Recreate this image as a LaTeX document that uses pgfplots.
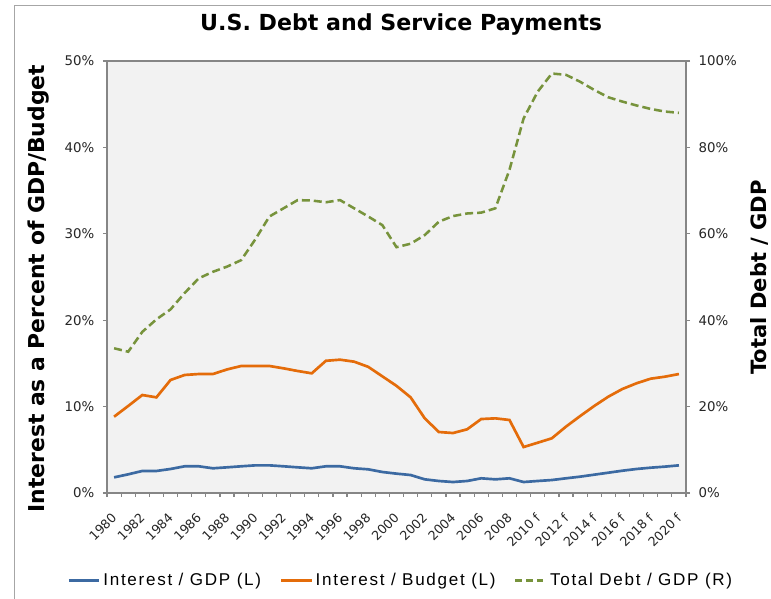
\documentclass[border=0pt]{standalone}
\usepackage{fontspec}
\setmainfont{DejaVu Sans}
\newfontfamily\legfont[LetterSpace=10]{Liberation Sans}
\usepackage{pgfplots}
\usepackage{pgfplotstable}
\pgfplotsset{compat=1.18}
\definecolor{cblue}{RGB}{60,106,162}
\definecolor{corange}{RGB}{228,108,10}
\definecolor{cgreen}{RGB}{119,147,60}
\definecolor{axcol}{RGB}{134,134,134}
\definecolor{bgcol}{RGB}{242,242,242}
\pgfplotstableread{
i blue orange green
0 1.81 8.83 33.5
1 2.16 10.07 32.7
2 2.55 11.34 37.3
3 2.55 11.07 40.2
4 2.78 13.08 42.5
5 3.09 13.66 46.3
6 3.09 13.77 49.7
7 2.86 13.77 51.2
8 2.97 14.30 52.4
9 3.09 14.70 53.9
10 3.20 14.70 58.7
11 3.20 14.70 64.0
12 3.09 14.43 65.9
13 2.97 14.12 67.8
14 2.86 13.85 67.7
15 3.09 15.30 67.3
16 3.09 15.43 67.8
17 2.86 15.20 65.9
18 2.74 14.60 64.0
19 2.43 13.50 62.0
20 2.24 12.40 56.9
21 2.08 11.07 57.7
22 1.58 8.64 59.7
23 1.39 7.06 62.8
24 1.27 6.94 64.1
25 1.39 7.37 64.7
26 1.70 8.56 64.9
27 1.58 8.64 65.9
28 1.70 8.45 74.8
29 1.27 5.32 86.7
30 1.39 5.82 92.9
31 1.50 6.33 97.1
32 1.70 7.68 96.8
33 1.89 8.90 95.2
34 2.12 10.07 93.3
35 2.35 11.15 91.6
36 2.58 12.04 90.6
37 2.78 12.70 89.7
38 2.93 13.23 88.9
39 3.05 13.46 88.3
40 3.20 13.77 88.0
}\data
\begin{document}
\begin{tikzpicture}[x=0.75pt,y=0.75pt]
\useasboundingbox (-107,-106) rectangle (664,493);
\fill[white] (-107,-106) rectangle (664,493);
\draw[color=black!35, line width=0.75pt] (-92,-110) -- (-92,487) -- (670,487);
\pgfplotsset{
  base/.style={
    at={(0,0)}, anchor=south west,
    scale only axis, width=434.25pt, height=324pt,
    xmin=-0.5, xmax=40.5,
    axis line style={axcol, line width=0.9pt},
    tick style={axcol, line width=0.9pt},
    major tick length=3pt,
    tick align=outside,
    /pgf/number format/assume math mode=true,
    tick label style={font=\fontsize{10}{12}\selectfont, text=black!85},
  }
}
\begin{axis}[base,
  ymin=0, ymax=50,
  axis background/.style={fill=bgcol},
  xtick pos=bottom, ytick pos=left,
  ytick={0,10,...,50},
  yticklabel={\pgfmathprintnumber{\tick}\%},
  yticklabel style={xshift=-3pt},
  xtick={-0.5,0.5,...,40.5},
  xticklabels={},
  extra x ticks={0,2,...,40},
  extra x tick labels={1980,1982,1984,1986,1988,1990,1992,1994,1996,1998,2000,2002,2004,2006,2008,2010 f,2012 f,2014 f,2016 f,2018 f,2020 f},
  extra x tick style={major tick length=0pt, tick style={draw=none}},
  xticklabel style={xshift=-2.5pt, yshift=-12.7pt, rotate=45, anchor=north east, inner sep=1pt, font=\fontsize{9.5}{11}\selectfont},
  title={U.S. Debt and Service Payments},
  title style={at={(axis description cs:0.508,1.067)}, anchor=center, font=\bfseries\fontsize{16.6}{19}\selectfont},
  ylabel={Interest as a Percent of GDP/Budget},
  every axis y label/.style={at={(axis description cs:-0.119,0.473)}, rotate=90, anchor=center, font=\bfseries\fontsize{16.4}{19}\selectfont},
  legend style={at={(axis description cs:0.508,-0.203)}, anchor=center, draw=none, fill=none,
    font=\legfont\fontsize{12.8}{14}\selectfont,
    /tikz/every even column/.append style={column sep=12pt}},
  legend columns=-1,
  legend image code/.code={\draw[#1] (0pt,0pt) -- (23pt,0pt);},
]
\addplot[cblue, line width=2pt] table[x=i, y=blue] {\data};
\addlegendentry{Interest / GDP (L)}
\addplot[corange, line width=2pt] table[x=i, y=orange] {\data};
\addlegendentry{Interest / Budget (L)}
\addlegendimage{cgreen, line width=1.9pt, dash pattern=on 5pt off 3pt}
\addlegendentry{Total Debt / GDP (R)}
\end{axis}
\begin{axis}[base,
  ymin=0, ymax=100,
  axis x line=none,
  axis y line*=right,
  ytick={0,20,...,100},
  yticklabel={\pgfmathprintnumber{\tick}\%},
  yticklabel style={xshift=3pt},
  ylabel={Total Debt / GDP},
  every axis y label/.style={at={(axis description cs:1.127,0.499)}, rotate=90, anchor=center, font=\bfseries\fontsize{15.8}{17}\selectfont},
]
\addplot[cgreen, line width=1.9pt, dash pattern=on 6pt off 3pt] table[x=i, y=green] {\data};
\end{axis}
\draw[axcol, line width=0.9pt] (579,0) -- (579,432) -- (0,432);
\end{tikzpicture}
\end{document}
